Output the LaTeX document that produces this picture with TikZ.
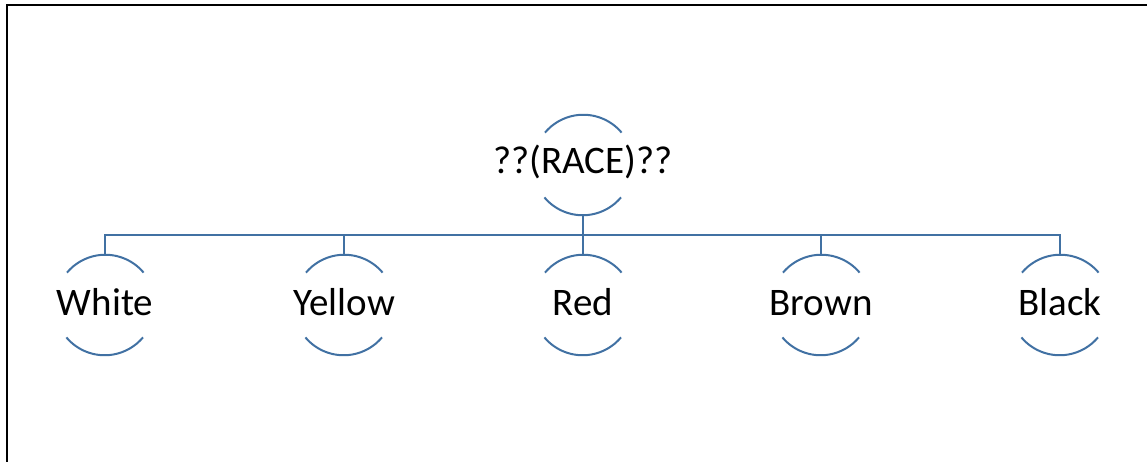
\documentclass[tikz,border=0pt]{standalone}
\usepackage{fontspec}
\setmainfont{Carlito}
\definecolor{linkblue}{RGB}{65,113,163}
\begin{document}
\begin{tikzpicture}[x=0.5pt,y=0.5pt,
  ringnode/.style={circle, minimum size=50pt, inner sep=0pt},
  ringarc/.style={draw=linkblue, line width=1pt},
  link/.style={draw=linkblue, line width=1pt},
  lbl/.style={anchor=base, inner sep=0pt, font=\fontsize{19.5}{23}\selectfont},
  frame/.style={draw=black, line width=1.1pt}]
\useasboundingbox (0,0) rectangle (1147,461);
% frame (top and left edges visible)
\coordinate (fbl) at (7,-2);
\coordinate (ftl) at (7,456);
\coordinate (ftr) at (1149,456);
\draw[frame] (fbl) -- (ftl) -- (ftr);
% parent
\node[ringnode] (p) at (583,296) {};
\node[lbl] (pt) at (583,287) {??(RACE)??};
% children
\node[ringnode] (c1) at (105,156) {};
\node[ringnode] (c2) at (344,156) {};
\node[ringnode] (c3) at (583,156) {};
\node[ringnode] (c4) at (821,156) {};
\node[ringnode] (c5) at (1060,156) {};
\node[lbl] (t1) at (105,145) {White};
\node[lbl] (t2) at (344,145) {Yellow};
\node[lbl] (t3) at (583,145) {Red};
\node[lbl] (t4) at (821,145) {Brown};
\node[lbl] (t5) at (1060,145) {Black};
% arcs
\foreach \n in {p,c1,c2,c3,c4,c5}{
  \draw[ringarc] (\n.40) arc[start angle=40,end angle=140,radius=25pt];
  \draw[ringarc] (\n.220) arc[start angle=220,end angle=320,radius=25pt];
}
% connectors
\coordinate (bar) at (583,226);
\draw[link] (p.south) -- (c3.north);
\draw[link] (c1.north) -- (c1.north |- bar) -- (c5.north |- bar) -- (c5.north);
\draw[link] (c2.north) -- (c2.north |- bar);
\draw[link] (c4.north) -- (c4.north |- bar);
\end{tikzpicture}
\end{document}
